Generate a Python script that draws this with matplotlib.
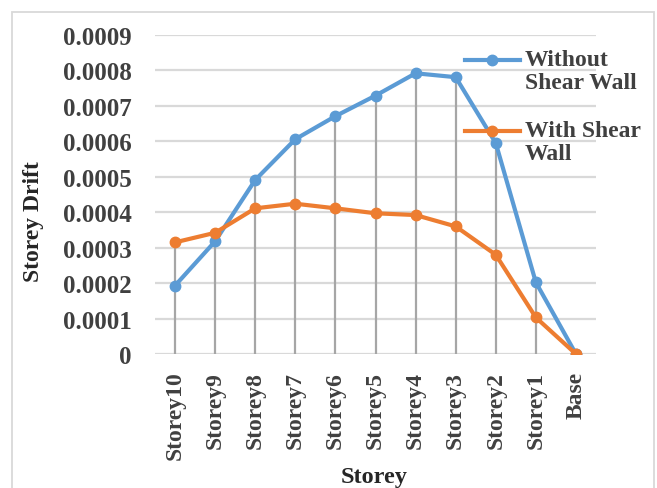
import matplotlib
matplotlib.use("Agg")
import matplotlib.pyplot as plt
from matplotlib.patches import Rectangle
from matplotlib.lines import Line2D
import numpy as np

categories = ["Storey10", "Storey9", "Storey8", "Storey7", "Storey6", "Storey5",
              "Storey4", "Storey3", "Storey2", "Storey1", "Base"]
without_sw = [0.000193, 0.000318, 0.000491, 0.000606, 0.000671, 0.000729,
              0.000792, 0.000781, 0.000595, 0.000202, 0.0]
with_sw = [0.000315, 0.000342, 0.000411, 0.000424, 0.000411, 0.000397,
           0.000392, 0.000360, 0.000280, 0.000103, 0.0]
yticks = [0, 0.0001, 0.0002, 0.0003, 0.0004, 0.0005, 0.0006, 0.0007, 0.0008, 0.0009]
ytick_labels = ["0", "0.0001", "0.0002", "0.0003", "0.0004", "0.0005",
                "0.0006", "0.0007", "0.0008", "0.0009"]
series_labels = ["Without\nShear Wall", "With Shear\nWall"]
series_colors = ["#5B9BD5", "#ED7D31"]

plt.rcParams['font.family'] = ['Liberation Serif', 'DejaVu Serif']
plt.rcParams['font.weight'] = 'bold'

W, H = 657, 489
fig = plt.figure(figsize=(W / 100, H / 100), dpi=100)
fig.patches.append(Rectangle((12 / W, -0.05), 642 / W, 1.05 - 13 / H,
                             transform=fig.transFigure, fill=False,
                             edgecolor="#d9d9d9", lw=1.3))

ax = fig.add_axes([155 / W, 1 - 355 / H, 441 / W, (355 - 36) / H])
x = np.arange(len(categories))
text_col = "#404040"

ax.set_ylim(0, 0.0009)
ax.set_xlim(-0.5, len(categories) - 0.5)
ax.set_yticks(yticks)
ax.set_yticklabels(ytick_labels, fontsize=18, fontweight='bold', color=text_col)
ax.set_xticks(x)
ax.set_xticklabels(categories, rotation=90, fontsize=17, fontweight='bold', color=text_col)
ax.tick_params(axis='y', length=0, pad=17)
ax.tick_params(axis='x', length=0, pad=12)
ax.grid(axis='y', color="#d9d9d9", lw=1.6)
ax.set_axisbelow(True)
for s in ax.spines.values():
    s.set_visible(False)

# drop lines
tops = np.maximum(without_sw, with_sw)
ax.vlines(x, 0, tops, color="#a6a6a6", lw=1.6, zorder=1)

ax.plot(x, without_sw, color=series_colors[0], lw=3, marker='o', ms=7.5, zorder=3)
ax.plot(x, with_sw, color=series_colors[1], lw=3, marker='o', ms=7.5, zorder=4)

ax.set_ylabel("Storey Drift", fontsize=17, fontweight='bold', color="#262626")
ax.yaxis.set_label_coords((44 - 155) / 441, (355 - 222) / 319)
ax.set_xlabel("Storey", fontsize=17.5, fontweight='bold', color="#262626")
ax.xaxis.set_label_coords((374 - 155) / 441, -(467 - 355) / 319)

# legend (handle aligned with first text line, Excel style)
leg_rows = [61, 132]
for lab, col, yy in zip(series_labels, series_colors, leg_rows):
    fy = 1 - yy / H
    fig.add_artist(Line2D([465 / W, 520 / W], [fy, fy], transform=fig.transFigure,
                          color=col, lw=3, zorder=5))
    fig.add_artist(Line2D([492 / W], [fy], transform=fig.transFigure, color=col,
                          marker='o', ms=7.5, zorder=6))
    fig.text(525 / W, 1 - (yy - 11) / H, lab, fontsize=17, fontweight='bold',
             color=text_col, va='top', ha='left', linespacing=1.15)

fig.savefig("out.png", dpi=100)
